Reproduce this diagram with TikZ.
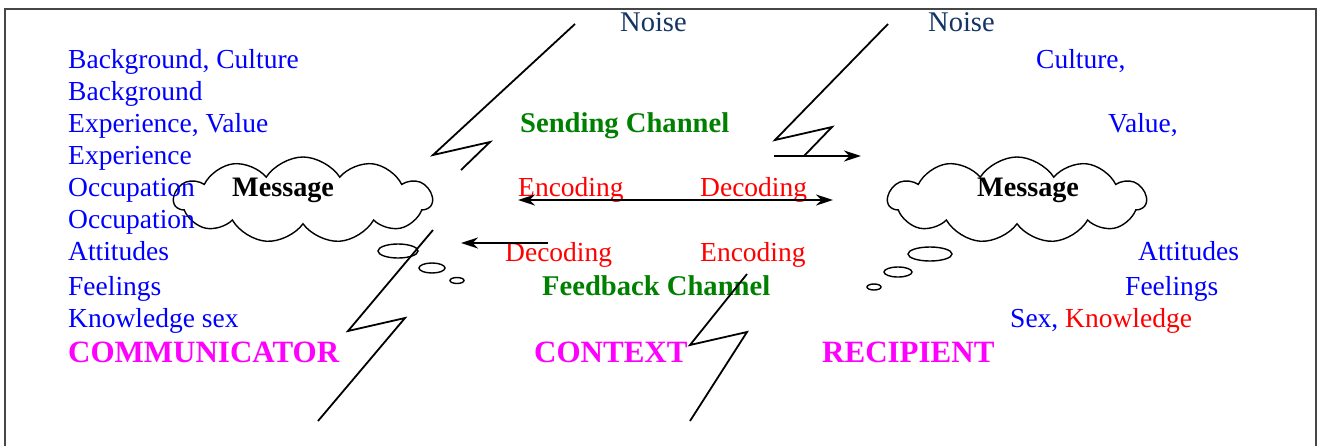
\documentclass[tikz,border=0pt]{standalone}
\usepackage{fontspec}
\setmainfont{Liberation Serif}
\usetikzlibrary{shapes.symbols,arrows.meta}
\definecolor{noiseblue}{RGB}{20,52,100}
\definecolor{txtblue}{RGB}{0,0,255}
\definecolor{chgreen}{RGB}{0,128,0}
\definecolor{codred}{RGB}{255,0,0}
\definecolor{mag}{RGB}{255,0,255}
\definecolor{frame}{RGB}{70,70,70}
\begin{document}
\begin{tikzpicture}[x=1pt,y=-1pt,
  lbl/.style={anchor=base west,inner sep=0pt,font=\fontsize{27.5}{32}\selectfont},
  attr/.style={lbl,text=txtblue},
  bigbold/.style={lbl,text=mag,font=\fontsize{31}{34}\selectfont\bfseries},
  chan/.style={lbl,text=chgreen,font=\fontsize{28.6}{32}\selectfont\bfseries},
  cod/.style={lbl,text=codred},
  noiselbl/.style={lbl,text=noiseblue,font=\fontsize{28.5}{32}\selectfont},
  msg/.style={lbl,font=\fontsize{28.2}{32}\selectfont\bfseries},
  thought/.style={cloud,draw,line width=1.4pt,cloud puffs=11,cloud puff arc=115,aspect=3,minimum width=258pt,minimum height=86pt,inner sep=0pt},
  bubble/.style={line width=1.4pt},
  bolt/.style={line width=1.8pt,line join=miter},
  flow/.style={line width=2pt,-{Stealth[length=17pt,width=11pt]}},
  flowboth/.style={line width=2pt,{Stealth[length=17pt,width=11pt]}-{Stealth[length=17pt,width=11pt]}}
]
\useasboundingbox (0,0) rectangle (1318,445);
\draw[frame,line width=2pt] (5,9) rectangle (1316,470);

% clouds
\node[thought] (cloudL) at (303,200) {};
\node[thought] (cloudR) at (1017,200) {};
\draw[bubble] (398,251) ellipse [x radius=20,y radius=7];
\draw[bubble] (432,268) ellipse [x radius=13,y radius=5];
\draw[bubble] (457,280.5) ellipse [x radius=7,y radius=3];
\draw[bubble] (930,254) ellipse [x radius=22,y radius=7];
\draw[bubble] (898,272) ellipse [x radius=14,y radius=5];
\draw[bubble] (874,287) ellipse [x radius=7,y radius=3];

% left attributes
\node[attr] (l1) at (68,68) {Background, Culture};
\node[attr] (l2) at (68,100) {Background};
\node[attr] (l3) at (68,132) {Experience,\ Value};
\node[attr] (l4) at (68,164) {Experience};
\node[attr] (l5) at (68,196) {Occupation};
\node[attr] (l6) at (68,228) {Occupation};
\node[attr] (l7) at (68,260) {Attitudes};
\node[attr] (l8) at (68,295) {Feelings};
\node[attr] (l9) at (68,327) {Knowledge sex};
\node[bigbold] (comm) at (68,362) {COMMUNICATOR};

% right attributes
\node[attr] (r1) at (1036,68) {Culture,};
\node[attr] (r2) at (1108,132) {Value,};
\node[attr] (r3) at (1138,260) {Attitudes};
\node[attr] (r4) at (1125,295) {Feelings};
\node[attr] (r5) at (1010,327) {Sex, \textcolor{codred}{Knowledge}};
\node[bigbold] (recip) at (822,362) {RECIPIENT};
\node[bigbold] (ctx) at (534,362) {CONTEXT};

% messages
\node[msg] (msgL) at (232,196) {Message};
\node[msg] (msgR) at (977,196) {Message};

% noise
\node[noiselbl] (noise1) at (620,31) {Noise};
\node[noiselbl] (noise2) at (928,31) {Noise};

% channels
\node[chan] (send) at (520,132) {Sending Channel};
\node[chan] (feed) at (542,295) {Feedback Channel};
\node[cod] (enc1) at (518,196) {Encoding};
\node[cod] (dec1) at (700,196) {Decoding};
\node[cod] (dec2) at (505,261) {Decoding};
\node[cod] (enc2) at (700,261) {Encoding};

% bolts
\draw[bolt] (575,24) -- (433,155) -- (490,142) -- (461,170);
\draw[bolt] (888,24) -- (775,140) -- (832,127) -- (804,156);
\draw[bolt] (433,230) -- (348,331) -- (405,318) -- (318,421);
\draw[bolt] (747,274) -- (690,345) -- (747,332) -- (690,421);

% arrows
\coordinate (a1s) at (518,200);
\coordinate (a1e) at (833,200);
\draw[flowboth] (a1s) -- (a1e);
\coordinate (a2s) at (548,243);
\coordinate (a2e) at (461,243);
\draw[flow] (a2s) -- (a2e);
\coordinate (a3s) at (774,156);
\coordinate (a3e) at (861,156);
\draw[flow] (a3s) -- (a3e);
\end{tikzpicture}
\end{document}
